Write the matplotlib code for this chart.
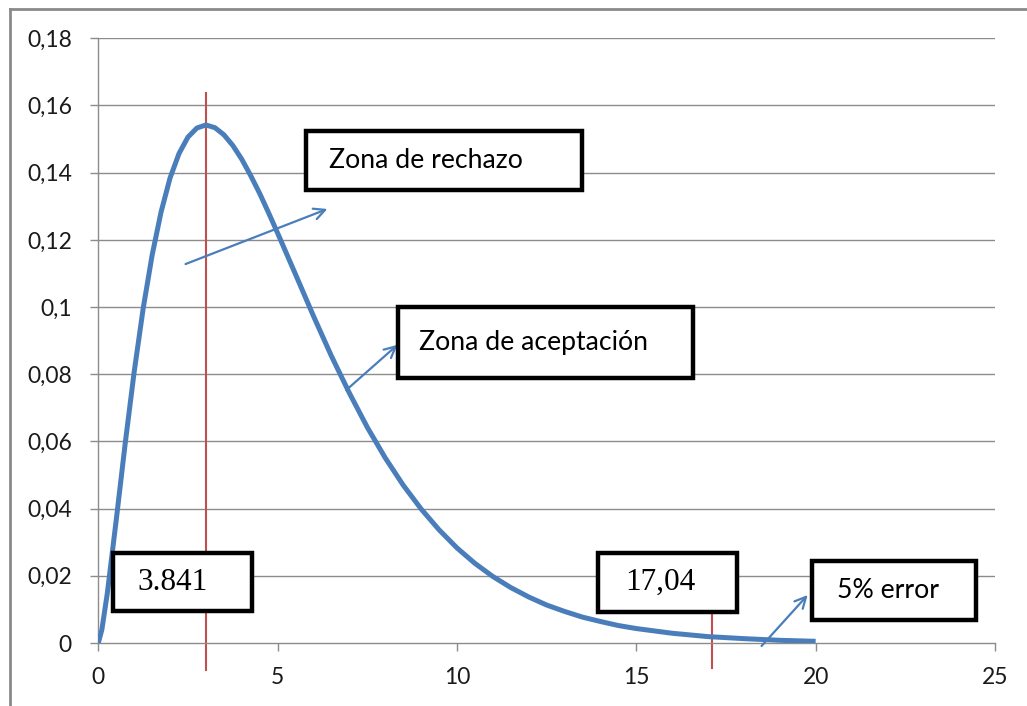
import matplotlib
matplotlib.use("Agg")
import matplotlib.pyplot as plt
from matplotlib.patches import Rectangle
from matplotlib.lines import Line2D

# ---- data ----
x_vals = [0, 0.1, 0.25, 0.5, 0.75, 1, 1.25, 1.5, 1.75, 2, 2.25, 2.5, 2.75, 3, 3.25,
          3.5, 3.75, 4, 4.25, 4.5, 4.75, 5, 5.5, 6, 6.5, 7, 7.5, 8, 8.5,
          9, 9.5, 10, 10.5, 11, 11.5, 12, 12.5, 13, 13.5, 14, 14.5, 15, 16, 17,
          18, 19, 20]
density = [0.0, 0.0040, 0.0147, 0.0366, 0.0594, 0.0807, 0.0995, 0.1154, 0.1283,
           0.1384, 0.1457, 0.1506, 0.1533, 0.1542, 0.1534, 0.1513, 0.1481, 0.1440,
           0.1391, 0.1338, 0.1280, 0.1220, 0.1097, 0.0973, 0.0854, 0.0744, 0.0642,
           0.0551, 0.0470, 0.0399, 0.0337, 0.0283, 0.0237, 0.0198, 0.0165, 0.0137,
           0.0113, 0.0094, 0.0077, 0.0064, 0.0052, 0.0043, 0.0029, 0.0019, 0.0013,
           0.0008, 0.0005]
x_ticks = [0, 5, 10, 15, 20, 25]
y_ticks = [0, 0.02, 0.04, 0.06, 0.08, 0.1, 0.12, 0.14, 0.16, 0.18]
y_tick_labels = ["0", "0,02", "0,04", "0,06", "0,08", "0,1", "0,12", "0,14", "0,16", "0,18"]
crit_lines = [3.0, 17.1]
label_rechazo = "Zona de rechazo"
label_acept = "Zona de aceptación"
label_crit1 = "3.841"
label_crit2 = "17,04"
label_error = "5% error"

W, H = 1027, 706
fig = plt.figure(figsize=(W / 100, H / 100), dpi=100)
fig.patch.set_facecolor("white")

x0, x1 = 98.3, 995.0
y0, y1 = 643.0, 38.3
ax = fig.add_axes([x0 / W, (H - y0) / H, (x1 - x0) / W, (y0 - y1) / H])
ax.set_xlim(0, 25)
ax.set_ylim(0, 0.18)

grid_c = "#8c8c8c"
for yv in y_ticks[1:]:
    ax.axhline(yv, color=grid_c, lw=1.0, zorder=1)
for s in ["top", "right"]:
    ax.spines[s].set_visible(False)
for s in ["left", "bottom"]:
    ax.spines[s].set_color(grid_c)
    ax.spines[s].set_linewidth(1.0)

ax.set_xticks(x_ticks)
ax.set_xticklabels([str(t) for t in x_ticks])
ax.set_yticks(y_ticks)
ax.set_yticklabels(y_tick_labels)
ax.tick_params(axis="both", direction="out", length=6, width=1.0, color=grid_c,
               labelsize=16.5, labelcolor="#1a1a1a")
ax.tick_params(axis="y", pad=13)
ax.tick_params(axis="x", pad=11)
for lab in ax.get_xticklabels() + ax.get_yticklabels():
    lab.set_family("Lato")

blue = "#4a7ebb"
red = "#c0504d"

ax.plot(x_vals, density, color=blue, lw=3.6, zorder=3, solid_capstyle="butt",
        solid_joinstyle="round")

# critical lines
ax.plot([crit_lines[0]] * 2, [-0.0081, 0.1637], color=red, lw=1.5, zorder=2, clip_on=False)
ax.plot([crit_lines[1]] * 2, [-0.0075, 0.012], color=red, lw=1.5, zorder=2, clip_on=False)

# arrows
arrow_kw = dict(arrowstyle="->,head_length=0.8,head_width=0.4", color=blue, lw=1.6)
ax.annotate("", xy=(6.46, 0.1295), xytext=(2.36, 0.1125), arrowprops=arrow_kw,
            zorder=4, annotation_clip=False)
ax.annotate("", xy=(8.40, 0.0893), xytext=(6.85, 0.0747), arrowprops=arrow_kw,
            zorder=4, annotation_clip=False)
ax.annotate("", xy=(19.83, 0.0149), xytext=(18.44, -0.0015), arrowprops=arrow_kw,
            zorder=4, annotation_clip=False)


def box(xa, xb, ya, yb, text, tx, family, size):
    r = Rectangle((xa, yb), xb - xa, ya - yb, facecolor="white", edgecolor="black",
                  lw=3.2, zorder=6, clip_on=False)
    ax.add_patch(r)
    ax.text(tx, (ya + yb) / 2, text, ha="left", va="center", family=family,
            fontsize=size, color="black", zorder=7)


box(5.79, 13.48, 0.1524, 0.1348, label_rechazo, 6.42, "Lato", 19.2)
box(8.35, 16.57, 0.1000, 0.0789, label_acept, 8.93, "Lato", 19.2)
box(0.41, 4.28, 0.0268, 0.0095, label_crit1, 1.08, "Liberation Serif", 22.5)
box(13.93, 17.80, 0.0268, 0.0092, label_crit2, 14.68, "Liberation Serif", 22.5)
box(19.89, 24.46, 0.0244, 0.0068, label_error, 20.59, "Lato", 19.2)

# outer chart border (left and top visible)
fig.add_artist(Line2D([9.5 / W, 9.5 / W], [0, (H - 8.5) / H], color="#8a8a8a", lw=2.0))
fig.add_artist(Line2D([9.5 / W, 1.0], [(H - 8.5) / H, (H - 8.5) / H], color="#8a8a8a", lw=2.0))

fig.savefig("out.png", dpi=100, facecolor="white")
